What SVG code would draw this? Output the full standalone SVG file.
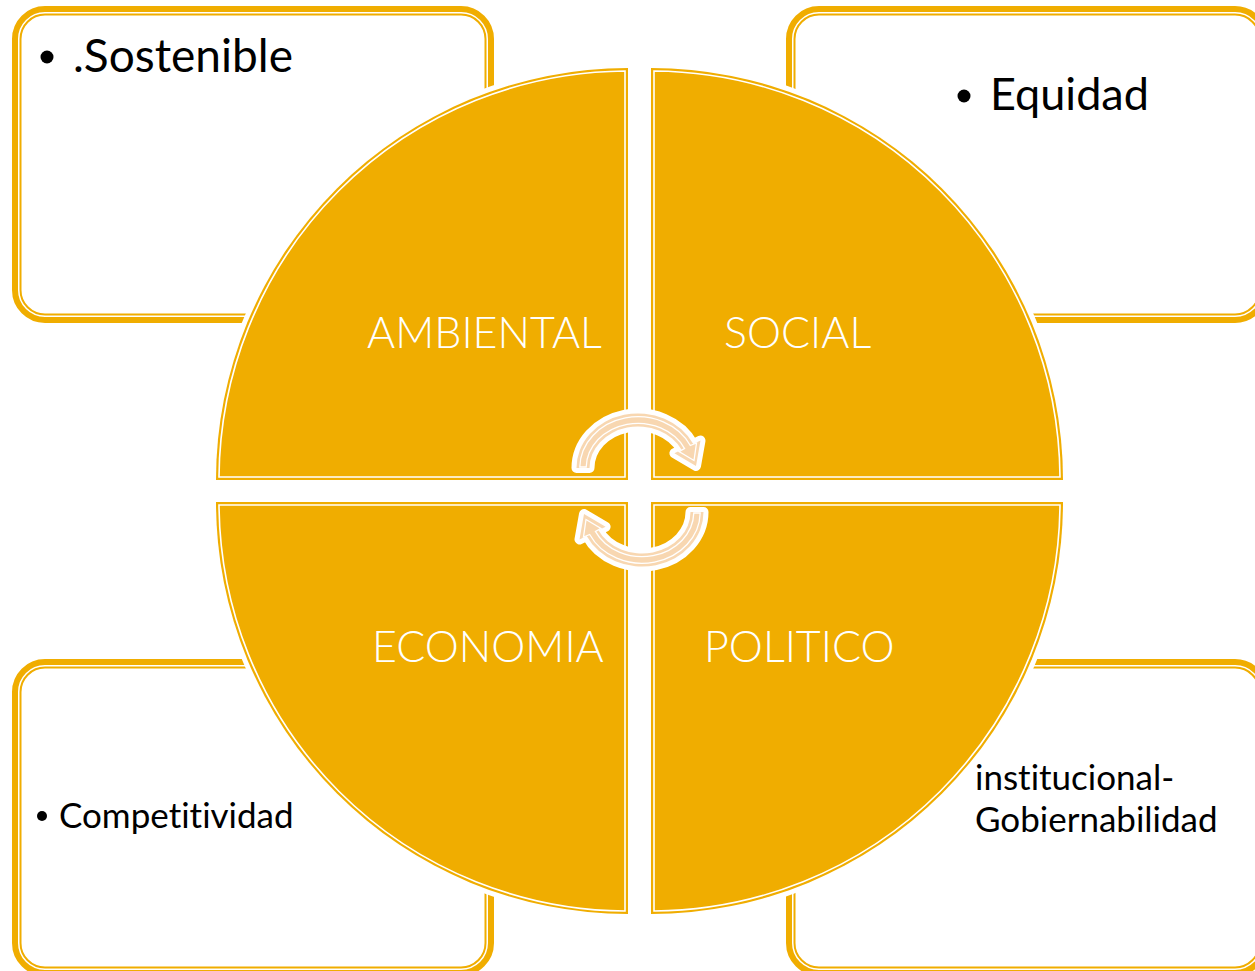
<svg xmlns="http://www.w3.org/2000/svg" width="1255" height="971" viewBox="0 0 1255 971">
<defs>
<style>
.band{fill:#fff;stroke:#F0AD00;stroke-width:6}
.thin{fill:none;stroke:#F0AD00;stroke-width:2}
.halo{fill:#fff;stroke:#fff;stroke-width:10;stroke-linejoin:round}
.quad{fill:#F0AD00}
.inset{fill:none;stroke:#fff;stroke-width:1.6}
.btxt{font-family:Lato,"Open Sans",sans-serif;fill:#000;font-variant-ligatures:none}
.lbl{font-family:Lato,"Open Sans",sans-serif;font-weight:300;fill:#fff;font-size:43px;font-variant-ligatures:none}
.ahalo{fill:#fff;stroke:#fff;stroke-width:10;stroke-linejoin:round}
.abody{fill:#F8D7B1}
.aline{fill:none;stroke:#fff;stroke-width:1.3}
</style>
<path id="arrowShape" d="M 576.5 468 A 61.5 54.5 0 0 1 693.3 444.1 L 700.5 440.6 L 696 466 L 674.4 453.3 L 681.6 449.8 A 48.5 41.5 0 0 0 589.5 468 Z"/>
<path id="arrowInset" d="M 579.8 467 A 58.2 51.2 0 0 1 690.3 445.5 L 696.5 443 L 694 460.5 L 679 451.6 L 684.6 448.6 A 51.8 44.8 0 0 0 586.2 467 Z"/>
</defs>
<rect width="1255" height="971" fill="#fff"/>

<g id="box-tl">
<rect class="band" x="15" y="9" width="476" height="311" rx="30"/>
<rect class="thin" x="20.5" y="14.5" width="465" height="300" rx="24.5"/>
<circle cx="47" cy="57" r="6.5" fill="#000"/>
<text class="btxt" x="73" y="72" font-size="46">.Sostenible</text>
</g>
<g id="box-tr">
<rect class="band" x="789" y="9" width="476" height="311" rx="30"/>
<rect class="thin" x="794.5" y="14.5" width="465" height="300" rx="24.5"/>
<circle cx="964" cy="96" r="6.5" fill="#000"/>
<text class="btxt" x="990" y="110" font-size="45">Equidad</text>
</g>
<g id="box-bl">
<rect class="band" x="15" y="662" width="476" height="311" rx="30"/>
<rect class="thin" x="20.5" y="667.5" width="465" height="300" rx="24.5"/>
<circle cx="42" cy="816" r="5" fill="#000"/>
<text class="btxt" x="59" y="828" font-size="35">Competitividad</text>
</g>
<g id="box-br">
<rect class="band" x="789" y="662" width="476" height="311" rx="30"/>
<rect class="thin" x="794.5" y="667.5" width="465" height="300" rx="24.5"/>
<text class="btxt" x="975" y="790" font-size="35">institucional-</text>
<text class="btxt" x="975" y="832" font-size="35">Gobiernabilidad</text>
</g>

<g id="halos">
<path class="halo" d="M 628 480 L 216 480 A 412 412 0 0 1 628 68 Z"/>
<path class="halo" d="M 651 480 L 651 68 A 412 412 0 0 1 1063 480 Z"/>
<path class="halo" d="M 628 502 L 628 914 A 412 412 0 0 1 216 502 Z"/>
<path class="halo" d="M 651 502 L 1063 502 A 412 412 0 0 1 651 914 Z"/>
</g>

<g id="q-ambiental">
<path class="quad" d="M 628 480 L 216 480 A 412 412 0 0 1 628 68 Z"/>
<path class="inset" d="M 625 477 L 219 477 A 409 409 0 0 1 625 71 Z"/>
<text class="lbl" x="367" y="348">AMBIENTAL</text>
</g>
<g id="q-social">
<path class="quad" d="M 651 480 L 651 68 A 412 412 0 0 1 1063 480 Z"/>
<path class="inset" d="M 654 477 L 654 71 A 409 409 0 0 1 1060 477 Z"/>
<text class="lbl" x="724" y="348">SOCIAL</text>
</g>
<g id="q-economia">
<path class="quad" d="M 628 502 L 628 914 A 412 412 0 0 1 216 502 Z"/>
<path class="inset" d="M 625 505 L 625 911 A 409 409 0 0 1 219 505 Z"/>
<text class="lbl" x="372" y="662">ECONOMIA</text>
</g>
<g id="q-politico">
<path class="quad" d="M 651 502 L 1063 502 A 412 412 0 0 1 651 914 Z"/>
<path class="inset" d="M 654 505 L 1060 505 A 409 409 0 0 1 654 911 Z"/>
<text class="lbl" x="704" y="662">POLITICO</text>
</g>

<g id="connectors">
<g id="arrow-top">
<use href="#arrowShape" class="ahalo"/>
<use href="#arrowShape" class="abody"/>
<use href="#arrowInset" class="aline"/>
</g>
<g id="arrow-bottom" transform="rotate(180 640 490)">
<use href="#arrowShape" class="ahalo"/>
<use href="#arrowShape" class="abody"/>
<use href="#arrowInset" class="aline"/>
</g>
</g>
</svg>
